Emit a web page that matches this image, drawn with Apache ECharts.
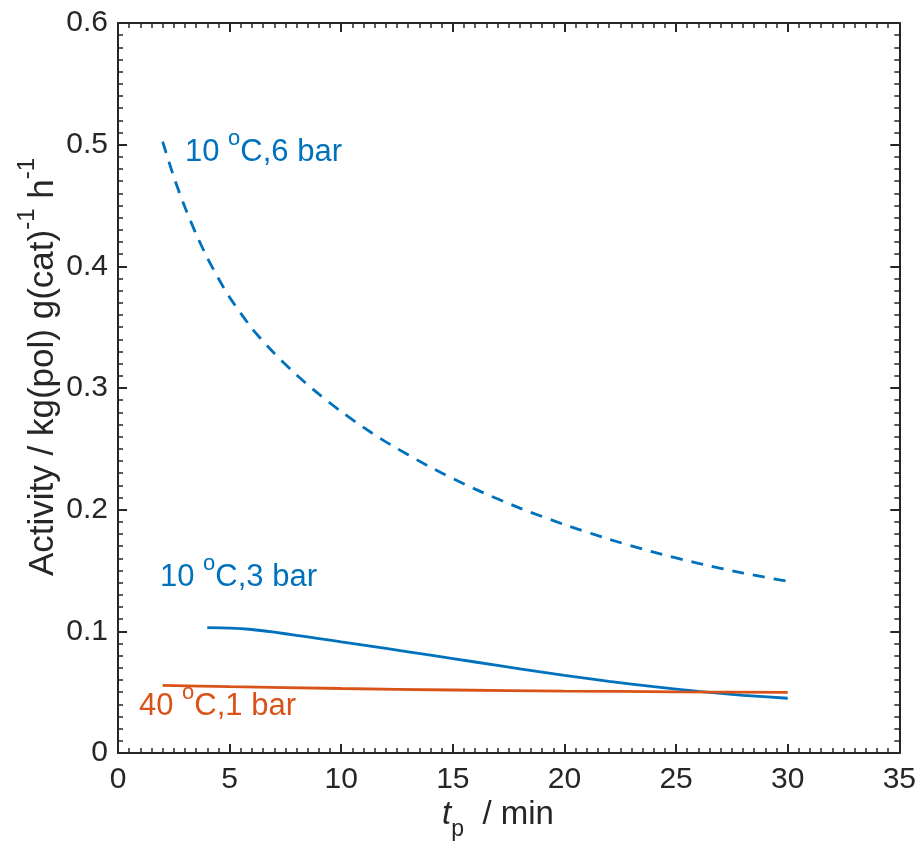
<!DOCTYPE html>
<html><head><meta charset="utf-8">
<script src="https://cdn.jsdelivr.net/npm/echarts@6/dist/echarts.min.js"></script>
<style>html,body{margin:0;padding:0;background:#fff}#c{width:919px;height:852px}</style>
</head><body><div id="c"></div>
<script>
// ---- data ----
const t6 = [2,2.5,3,3.5,4,4.5,5,6,7,8,9,10,11,12,14,16,18,20,22,24,26,28,30];
const act6 = [0.5025,0.4735,0.4485,0.4265,0.407,0.39,0.3745,0.349,0.3285,0.3107,0.2949,0.2806,0.2676,0.2557,0.2349,0.2169,0.2013,0.1877,0.1757,0.1651,0.1559,0.1479,0.1411];
const t3 = [4,5,6,7,8,9,10,12,14,16,18,20,22,24,26,28,30];
const act3 = [0.103,0.1027,0.1015,0.0993,0.0967,0.0941,0.0914,0.086,0.0804,0.0748,0.0692,0.0638,0.0589,0.0545,0.0506,0.0474,0.045];
const t1 = [2,5,10,15,20,25,30];
const act1 = [0.0555,0.0545,0.053,0.0518,0.0509,0.0503,0.0499];
const xTickLabels = ['0','5','10','15','20','25','30','35'];
const yTickLabels = ['0','0.1','0.2','0.3','0.4','0.5','0.6'];
const seriesNames = ['10 °C,6 bar','10 °C,3 bar','40 °C,1 bar'];

const BLUE = '#0072BD', ORANGE = '#D95319', AX = '#262626';
const FAMILY = '"Liberation Sans", Arial, Helvetica, sans-serif';
const pairs = (xs, ys) => xs.map((x, i) => [x, ys[i]]);

const chart = echarts.init(document.getElementById('c'), null, {renderer: 'canvas'});

function axisBase(pos, isX, showLabel) {
  return {
    type: 'value',
    position: pos,
    min: 0,
    max: isX ? 35 : 0.6,
    interval: isX ? 5 : 0.1,
    axisLine: {show: true, onZero: false, lineStyle: {color: AX, width: 2}},
    axisTick: {show: true, inside: true, length: 9, lineStyle: {color: AX, width: 2}},
    minorTick: {show: true, splitNumber: 10, length: 5, lineStyle: {color: AX, width: 1.5}},
    splitLine: {show: false},
    minorSplitLine: {show: false},
    axisLabel: {
      show: showLabel,
      fontSize: 30,
      fontFamily: FAMILY,
      color: AX,
      margin: isX ? 12 : 10,
      formatter: function (v) {
        const labels = isX ? xTickLabels : yTickLabels;
        const idx = Math.round(v / (isX ? 5 : 0.1));
        return labels[idx] !== undefined ? labels[idx] : '';
      }
    }
  };
}

const option = {
  animation: false,
  backgroundColor: '#ffffff',
  grid: {left: 118, right: 19, top: 23, bottom: 99, containLabel: false},
  xAxis: [axisBase('bottom', true, true), axisBase('top', true, false)],
  yAxis: [axisBase('left', false, true), axisBase('right', false, false)],
  series: [
    {name: seriesNames[0], type: 'line', xAxisIndex: 0, yAxisIndex: 0, data: pairs(t6, act6),
     showSymbol: false, smooth: 0.25, lineStyle: {color: BLUE, width: 2.8, type: [12, 9]}},
    {name: seriesNames[1], type: 'line', xAxisIndex: 0, yAxisIndex: 0, data: pairs(t3, act3),
     showSymbol: false, smooth: 0.25, lineStyle: {color: BLUE, width: 2.8}},
    {name: seriesNames[2], type: 'line', xAxisIndex: 0, yAxisIndex: 0, data: pairs(t1, act1),
     showSymbol: false, smooth: 0.25, lineStyle: {color: ORANGE, width: 2.8}}
  ]
};
chart.setOption(option);

// ---- text with super/subscripts built from measured pieces ----
const mctx = document.createElement('canvas').getContext('2d');
function fontStr(size, italic) { return (italic ? 'italic ' : '') + size + 'px ' + FAMILY; }
function measure(txt, size, italic) { mctx.font = fontStr(size, italic); return mctx.measureText(txt).width; }
const MID = 0.3465; // em-middle above baseline

// pieces: [text, size, baselineShiftUp, italic]; (x, y) = start/centre of baseline
function textGroup(pieces, x, y, color, align, rotation) {
  const widths = pieces.map(p => measure(p[0], p[1], p[3]));
  const total = widths.reduce((a, b) => a + b, 0);
  let cx = align === 'center' ? -total / 2 : 0;
  const children = pieces.map((p, i) => {
    const el = {
      type: 'text', x: cx, y: -p[2] - MID * p[1],
      style: {text: p[0], fill: color, font: fontStr(p[1], p[3]),
              align: 'left', verticalAlign: 'middle'}
    };
    cx += widths[i];
    return el;
  });
  return {type: 'group', x: x, y: y, rotation: rotation || 0, z: 10, children: children};
}

// annotation anchors (left end of baseline) in data coordinates
const annot = [
  {pre: '10 ', post: 'C,6 bar', at: [3.0, 0.485], color: BLUE},
  {pre: '10 ', post: 'C,3 bar', at: [1.88, 0.1357], color: BLUE},
  {pre: '40 ', post: 'C,1 bar', at: [0.94, 0.0296], color: ORANGE}
];

const graphics = annot.map(a => {
  const p = chart.convertToPixel({gridIndex: 0}, a.at);
  return textGroup([[a.pre, 31, 0], ['o', 22, 16], [a.post, 31, 0]], p[0], p[1], a.color, 'left', 0);
});

// y-axis title (rotated, reads bottom to top)
graphics.push(textGroup(
  [['Activity / kg(pol) g(cat)', 35, 0], ['-1', 24, 19], [' h', 35, 0], ['-1', 24, 19]],
  55, 367, AX, 'center', Math.PI / 2));
// x-axis title
graphics.push(textGroup(
  [['t', 33, 0, true], ['p', 23, -12], ['  / min', 33, 0]],
  498, 826, AX, 'center', 0));

chart.setOption({graphic: graphics});
</script>
</body></html>
